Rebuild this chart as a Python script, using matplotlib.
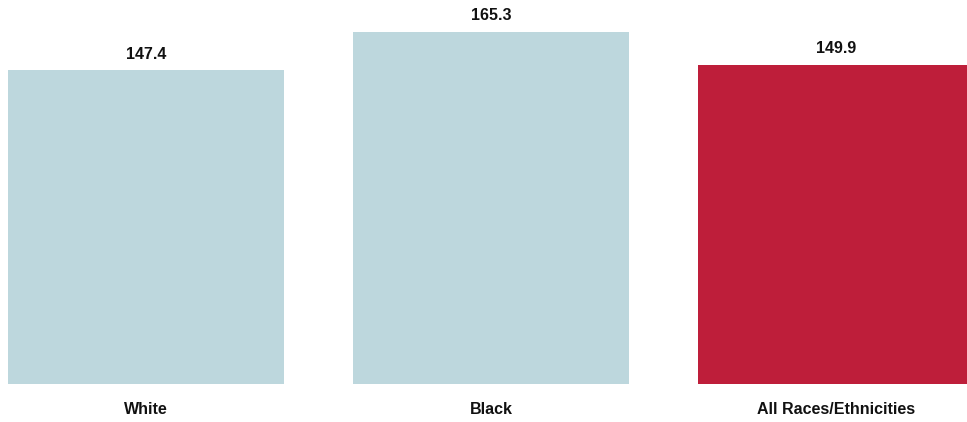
import matplotlib
matplotlib.use("Agg")
import matplotlib.pyplot as plt

categories = ["White", "Black", "All Races/Ethnicities"]
values = [147.4, 165.3, 149.9]
colors = ["#BDD7DD", "#BDD7DD", "#BE1E3A"]
labels = ["147.4", "165.3", "149.9"]

plt.rcParams['font.family'] = ['Liberation Sans', 'DejaVu Sans']

fig = plt.figure(figsize=(9.67, 4.22), dpi=100)
ax = fig.add_axes([0, 38/422, 1, 384/422])
x = list(range(len(categories)))
ax.bar(x, values, width=0.8, color=colors)
ax.set_xlim(-0.423, 2.380)
ax.set_ylim(0, 180.4)
for xi, v, lab in zip(x, values, labels):
    ax.text(xi, v + 7.6, lab, ha='center', va='center', fontsize=11.5, fontweight='bold', color='#111111')
for xi, c in zip(x, categories):
    ax.text(xi, -12, c, ha='center', va='center', fontsize=11.5, fontweight='bold', color='#111111')
ax.axis('off')
fig.savefig("out.png", dpi=100)
